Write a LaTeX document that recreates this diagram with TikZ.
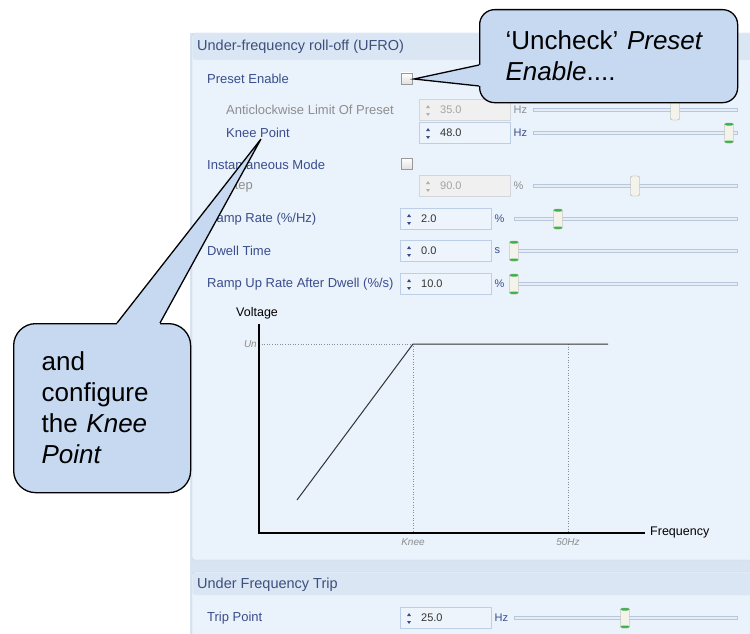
\documentclass[tikz,border=0pt]{standalone}
\usepackage{fontspec}
\setmainfont{Liberation Sans}

\definecolor{winbg}{HTML}{D8E4F2}
\definecolor{groupfill}{HTML}{EAF2FB}
\definecolor{groupedge}{HTML}{C3D3E7}
\definecolor{headfill}{HTML}{DAE6F4}
\definecolor{headtext}{HTML}{3D4F7C}
\definecolor{lblblue}{HTML}{3A4D8C}
\definecolor{lblgrey}{HTML}{8E8E8E}
\definecolor{spinedge}{HTML}{BCCFE6}
\definecolor{spinfill}{HTML}{EEF4FB}
\definecolor{spinoffedge}{HTML}{D3D7DC}
\definecolor{spinofffill}{HTML}{F0F0F0}
\definecolor{trackfill}{HTML}{E6EDF6}
\definecolor{trackedge}{HTML}{B8C8DC}
\definecolor{thumbfill}{HTML}{F3F3EC}
\definecolor{thumbedge}{HTML}{A6A69C}
\definecolor{thumbgreen}{HTML}{3CB44B}
\definecolor{calloutfill}{HTML}{C6D9F1}
\definecolor{chartgrey}{HTML}{8C8C8C}

\newcommand{\uifont}{\fontsize{13}{15}\selectfont}
\newcommand{\headfont}{\fontsize{14.5}{17}\selectfont}
\newcommand{\valfont}{\fontsize{11}{13}\selectfont}
\newcommand{\notefont}{\fontsize{10}{12}\selectfont\itshape}
\newcommand{\bubblefont}{\fontsize{26}{31}\selectfont}

\tikzset{
  % labels, enabled and greyed out
  lblon/.style={anchor=west, inner sep=0pt, font=\uifont, text=lblblue},
  lbloff/.style={lblon, text=lblgrey},
  headlbl/.style={anchor=west, inner sep=0pt, font=\headfont, text=headtext},
  % spin boxes
  spinon/.style={draw=spinedge, fill=spinfill, anchor=west, inner sep=0pt,
    minimum width=91pt, minimum height=21pt},
  spinoff/.style={spinon, draw=spinoffedge, fill=spinofffill},
  tipon/.style={fill=lblblue},
  tipoff/.style={fill=lblgrey!70},
  valon/.style={anchor=west, inner sep=0pt, font=\valfont, text=black!80},
  valoff/.style={valon, text=lblgrey!80},
  uniton/.style={anchor=west, inner sep=0pt, font=\valfont, text=lblblue},
  unitoff/.style={uniton, text=lblgrey},
  % sliders
  track/.style={draw=trackedge, fill=trackfill, line width=0.6pt},
  thumbknob/.style={draw=thumbedge, fill=thumbfill, rounded corners=2pt,
    minimum width=9pt, minimum height=20pt, inner sep=0pt},
  thumboff/.style={thumbknob},
  thumbon/.style={thumbknob, path picture={
      \fill[thumbgreen] (path picture bounding box.north west)
        rectangle ([yshift=-2.5pt]path picture bounding box.north east);
      \fill[thumbgreen] (path picture bounding box.south west)
        rectangle ([yshift=2.5pt]path picture bounding box.south east);}},
  checkbox/.style={draw=black!40, minimum size=11pt, inner sep=0pt,
    top color=white, bottom color=black!12},
  % chart
  axis/.style={line width=2pt, black},
  guide/.style={chartgrey, dotted, line width=0.6pt},
  curve/.style={line width=1pt, black!80},
  chartlbl/.style={inner sep=0pt, font=\fontsize{12.5}{14}\selectfont},
  chartnote/.style={inner sep=0pt, font=\notefont, text=chartgrey},
  % callouts
  bubble/.style={draw=black, fill=calloutfill, line width=1.3pt,
    anchor=north west, align=left, font=\bubblefont},
  tail/.style={draw=black, line width=1.3pt, line join=miter},
}

\begin{document}
\begin{tikzpicture}[x=1pt, y=-1pt]
  % y runs downwards: coordinates are pixels from the top left corner
  \useasboundingbox (0,0) rectangle (750,634);
  \clip (0,0) rectangle (750,634);
  \fill[white] (0,0) rectangle (750,634);
  \fill[winbg] (190,33) rectangle (760,640);

  % group boxes with their header bands
  \draw[groupedge, fill=groupfill, rounded corners=3pt] (192,33) rectangle (770,560);
  \fill[headfill, rounded corners=3pt] (192.5,33.5) rectangle (770,60);
  \draw[groupedge, fill=groupfill, rounded corners=3pt] (192,572) rectangle (770,660);
  \fill[headfill, rounded corners=3pt] (192.5,572.5) rectangle (770,595);
  \node[headlbl] (ufroHead) at (197,47) {Under-frequency roll-off (UFRO)};
  \node[headlbl] (tripHead) at (197,585) {Under Frequency Trip};

  % check boxes
  \node[lblon] (presetLbl) at (207,79) {Preset Enable};
  \node[checkbox] (presetBox) at (406.5,78.5) {};
  \node[lblon] (instLbl) at (207,165) {Instantaneous Mode};
  \node[checkbox] (instBox) at (406.5,163.5) {};

  % rows: label / label x / row y / spin box x / value / unit / thumb x / state
  \foreach \name/\lx/\ly/\bx/\val/\unit/\tx/\st in {
      {Anticlockwise Limit Of Preset}/226/110/419/35.0/Hz/675/off,
      {Knee Point}/226/133/419/48.0/Hz/729/on,
      Step/226/186/419/90.0/\%/635/off,
      {Ramp Rate (\%/Hz)}/207/219/400/2.0/\%/558/on,
      {Dwell Time}/207/251/400/0.0/s/514/on,
      {Ramp Up Rate After Dwell (\%/s)}/207/284/400/10.0/\%/514/on,
      {Trip Point}/207/618/400/25.0/Hz/625/on}
  {
    \node[lbl\st] (row-\ly) at (\lx,\ly) {\name};
    \node[spin\st] (spin-\ly) at (\bx,\ly) {};
    \fill[tip\st] ([xshift=7pt,yshift=2pt]spin-\ly.west) -- ++(4,0) -- ++(-2,-3) -- cycle;
    \fill[tip\st] ([xshift=7pt,yshift=-3pt]spin-\ly.west) -- ++(4,0) -- ++(-2,3) -- cycle;
    \node[val\st] (val-\ly) at ([xshift=21pt]spin-\ly.west) {\val};
    \node[unit\st] (unit-\ly) at ([xshift=3pt]spin-\ly.east) {\unit};
    \draw[track] ([xshift=23pt,yshift=1.5pt]spin-\ly.east) rectangle (737,\ly+1.5);
    \node[thumb\st] (thumb-\ly) at (\tx,\ly) {};
  }

  % voltage against frequency
  \coordinate (origin) at (259,533);
  \coordinate (unTop) at (259,344);
  \coordinate (kneePt) at (413,344);
  \coordinate (ratedPt) at (568,344);
  \node[chartlbl, anchor=west] (voltLbl) at (236,313) {Voltage};
  \node[chartlbl, anchor=west] (freqLbl) at (650,532) {Frequency};
  \draw[guide] (unTop) -- (kneePt) -- (kneePt |- origin);
  \draw[guide] (ratedPt) -- (ratedPt |- origin);
  \draw[curve] (297,500) -- (kneePt) -- (608,344);
  \draw[axis] (259,324) -- (origin) -- (645,533);
  \node[chartnote, anchor=east] (unLbl) at (257,344) {Un};
  \node[chartnote] (kneeLbl) at (413,542) {Knee};
  \node[chartnote] (ratedLbl) at (568,542) {50Hz};

  % callouts
  \node[bubble, rounded corners=15pt, text width=206pt, inner xsep=26pt,
    minimum height=93pt] (uncheck) at (479,9)
    {‘Uncheck’ \textit{Preset}\\\textit{Enable}....};
  \node[bubble, rounded corners=22pt, text width=121pt, inner xsep=28pt,
    minimum height=169pt] (configure) at (13,323)
    {and\\configure\\the \textit{Knee}\\\textit{Point}};

  \coordinate (presetTip) at (414,79);
  \coordinate (kneeTip) at (261,139);
  \path (uncheck.north west) ++(0,56) coordinate (u1) ++(0,21) coordinate (u2);
  \path (configure.north west) ++(104,0) coordinate (k1) ++(43,0) coordinate (k2);
  % cover the box edge under each tail, then draw the tail
  \fill[calloutfill] (u1) -- (presetTip) -- (u2) -- ([xshift=2pt]u2) -- ([xshift=2pt]u1) -- cycle;
  \draw[tail] (u1) -- (presetTip) -- (u2);
  \fill[calloutfill] (k1) -- (kneeTip) -- (k2) -- ([yshift=-2pt]k2) -- ([yshift=-2pt]k1) -- cycle;
  \draw[tail] (k1) -- (kneeTip) -- (k2);
\end{tikzpicture}
\end{document}
